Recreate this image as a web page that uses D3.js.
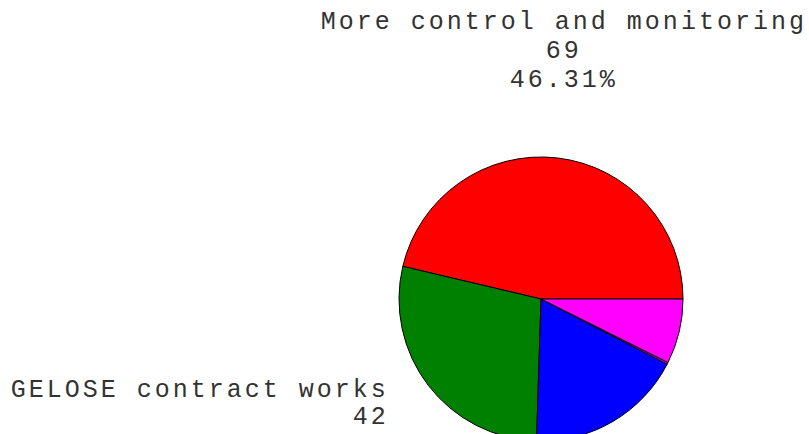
<!DOCTYPE html>
<html>
<head>
<meta charset="utf-8">
<script src="https://cdn.jsdelivr.net/npm/d3@7"></script>
<style>
  body { margin: 0; background: #fff; }
  svg { display: block; }
  text { font-family: "Liberation Mono", "Courier New", monospace; font-size: 25px; letter-spacing: 3px; fill: #333; }
</style>
</head>
<body>
<div class="container"></div>
<script>
// slices, counter-clockwise from 3 o'clock
let categories = ["More control and monitoring", "GELOSE contract works", "", "", ""];
let counts = [69, 42, 26.7, 0.3, 11];
let colors = ["#ff0000", "#008000", "#0000ff", "#ff00ff", "#ff00ff"];

let width = 809, height = 434;
let cx = 541, cy = 299, r = 142;

let svg = d3.select(".container")
  .append("svg")
  .attr("width", width)
  .attr("height", height);

let pie = d3.pie()
  .sort(null)
  .value(d => d)
  .startAngle(Math.PI / 2)
  .endAngle(Math.PI / 2 - 2 * Math.PI);

let arcs = pie(counts);
let total = d3.sum(counts);

let arc = d3.arc().innerRadius(0).outerRadius(r);

let g = svg.append("g")
  .attr("transform", `translate(${cx},${cy})`);

g.selectAll("path")
  .data(arcs)
  .enter().append("path")
  .attr("d", arc)
  .attr("fill", (d, i) => colors[i])
  .attr("stroke", "#000")
  .attr("stroke-width", 1);

// labels sit on a ring outside the pie
let labelR = r * 1.27;
let lineH = 29;
let fmtPct = d3.format(".2%");

arcs.forEach((d, i) => {
  if (!categories[i]) return;
  let a = (d.startAngle + d.endAngle) / 2;
  let x = labelR * Math.sin(a);
  let y = -labelR * Math.cos(a);
  let lines = [categories[i], String(counts[i]), fmtPct(counts[i] / total)];
  let anchor, tx, ty, lh = lineH;
  if (Math.abs(Math.sin(a)) < 0.3) {
    anchor = "middle";
    tx = x + 2;
    ty = y < 0 ? y - 33 - (lines.length - 1) * lineH : y + 30;
  } else {
    anchor = x < 0 ? "end" : "start";
    tx = x < 0 ? x - 9 : x + 9;
    ty = y - 12;
    lh = 27;
  }
  let t = g.append("text")
    .attr("text-anchor", anchor)
    .attr("x", tx)
    .attr("y", ty);
  lines.forEach((s, k) => {
    // lines that fall below the picture are not drawn
    if (cy + ty + k * lh > height) return;
    t.append("tspan")
      .attr("x", tx)
      .attr("y", ty + k * lh)
      .text(s);
  });
});
</script>
</body>
</html>
